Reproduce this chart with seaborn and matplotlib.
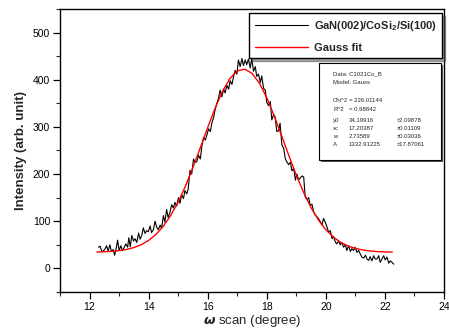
import matplotlib
matplotlib.use("Agg")
import matplotlib.pyplot as plt
from matplotlib.patches import Rectangle
import seaborn as sns

scan_x = [12.30, 12.36, 12.42, 12.48, 12.53, 12.58, 12.63, 12.69, 12.74, 12.80,
          12.85, 12.90, 12.95, 13.00, 13.06, 13.11, 13.17, 13.23, 13.29, 13.33,
          13.38, 13.43, 13.49, 13.54, 13.60, 13.66, 13.71, 13.77, 13.82, 13.88,
          13.93, 13.99, 14.05, 14.10, 14.16, 14.22, 14.27, 14.33, 14.39, 14.44,
          14.50, 14.55, 14.61, 14.66, 14.72, 14.78, 14.84, 14.89, 14.95, 15.01,
          15.06, 15.12, 15.18, 15.23, 15.29, 15.34, 15.40, 15.46, 15.52, 15.57,
          15.63, 15.69, 15.75, 15.80, 15.86, 15.92, 15.97, 16.03, 16.09, 16.14,
          16.20, 16.25, 16.31, 16.37, 16.42, 16.48, 16.54, 16.59, 16.65, 16.71,
          16.76, 16.82, 16.88, 16.93, 16.99, 17.04, 17.10, 17.16, 17.21, 17.27,
          17.32, 17.38, 17.44, 17.49, 17.55, 17.61, 17.66, 17.72, 17.78, 17.83,
          17.89, 17.95, 18.00, 18.06, 18.12, 18.17, 18.23, 18.28, 18.34, 18.40,
          18.45, 18.51, 18.57, 18.63, 18.68, 18.74, 18.80, 18.85, 18.91, 18.97,
          19.02, 19.08, 19.14, 19.19, 19.25, 19.30, 19.36, 19.42, 19.47, 19.53,
          19.59, 19.64, 19.75, 19.87, 19.92, 19.98, 20.04, 20.09, 20.15, 20.21,
          20.26, 20.32, 20.37, 20.43, 20.49, 20.54, 20.60, 20.66, 20.71, 20.77,
          20.83, 20.88, 20.94, 20.99, 21.05, 21.11, 21.17, 21.22, 21.28, 21.34,
          21.39, 21.45, 21.50, 21.56, 21.62, 21.67, 21.73, 21.79, 21.84, 21.90,
          21.96, 22.01, 22.07, 22.13, 22.18, 22.24, 22.30]
scan_y = [45, 47, 35, 38, 42, 48, 37, 50, 36, 40,
          28, 42, 60, 38, 48, 38, 44, 52, 45, 65,
          46, 70, 58, 63, 55, 75, 62, 70, 86, 74,
          80, 78, 90, 76, 82, 100, 88, 82, 92, 85,
          112, 98, 125, 108, 118, 135, 128, 140, 132, 150,
          138, 156, 148, 165, 158, 168, 208, 200, 232, 225,
          226, 240, 232, 258, 278, 272, 282, 296, 290, 308,
          320, 336, 350, 362, 378, 364, 380, 372, 388, 380,
          398, 390, 408, 420, 412, 442, 428, 445, 430, 442,
          432, 444, 425, 446, 418, 428, 407, 412, 394, 408,
          382, 378, 352, 345, 354, 315, 326, 322, 290, 292,
          308, 262, 255, 232, 226, 220, 225, 207, 212, 187,
          200, 188, 192, 196, 194, 152, 146, 150, 134, 136,
          120, 113, 106, 92, 106, 98, 88, 77, 80, 63,
          68, 56, 52, 58, 50, 55, 45, 50, 38, 48,
          36, 42, 38, 45, 34, 38, 30, 24, 22, 28,
          20, 17, 25, 16, 27, 20, 20, 27, 13, 20,
          27, 18, 24, 11, 16, 13, 9]

# Gauss fit curve
fit_x = [12.25, 12.50, 12.75, 13.00, 13.25, 13.50, 13.75, 14.00, 14.25, 14.50,
         14.75, 15.00, 15.25, 15.50, 15.75, 16.00, 16.25, 16.50, 16.75, 17.00,
         17.25, 17.50, 17.75, 18.00, 18.25, 18.50, 18.75, 19.00, 19.25, 19.50,
         19.75, 20.00, 20.25, 20.50, 20.75, 21.00, 21.25, 21.50, 21.75, 22.00,
         22.25]
fit_y = [34.8, 35.3, 36.2, 37.7, 40.2, 44.2, 50.3, 59.4, 72.2, 89.6,
         112.4, 140.9, 174.9, 213.8, 255.8, 298.6, 339.6, 375.2, 402.4, 418.7,
         422.6, 413.7, 392.7, 361.8, 323.7, 281.7, 238.7, 197.7, 160.6, 128.7,
         102.6, 82.0, 66.6, 55.4, 47.6, 42.4, 39.1, 37.0, 35.7, 35.0,
         34.6]

legend_labels = ["GaN(002)/CoSi$_2$/Si(100)", "Gauss fit"]

info_head = ["Data: C1021Co_B", "Model: Gauss"]
stat_names = ["Chi^2", "R^2"]
stat_vals = ["= 226.01144", "= 0.98842"]
par_names = ["y0", "xc", "w", "A"]
par_vals = ["34.19916", "17.20387", "2.73589", "1332.91225"]
par_errs = ["\u00b12.09878", "\u00b10.01109", "\u00b10.03036", "\u00b117.87061"]

sns.set_theme(style="ticks")
plt.rcParams["font.family"] = ["Liberation Sans", "DejaVu Sans"]
plt.rcParams["mathtext.default"] = "regular"

fig = plt.figure(figsize=(4.49, 3.33), dpi=100)
ax = fig.add_axes([60 / 449, 1 - 292 / 333, 384 / 449, 283 / 333])

sns.lineplot(x=scan_x, y=scan_y, ax=ax, color="black", linewidth=0.8,
             estimator=None, sort=False, label=legend_labels[0])
sns.lineplot(x=fit_x, y=fit_y, ax=ax, color="red", linewidth=1.0,
             estimator=None, sort=False, label=legend_labels[1])

ax.set_xlim(11, 24)
ax.set_ylim(-50, 550)
ax.set_xticks(range(12, 25, 2))
ax.set_xticks(range(11, 25), minor=True)
ax.set_yticks(range(0, 501, 100))
ax.set_yticks(range(-50, 551, 50), minor=True)
ax.tick_params(which="major", direction="out", length=5, width=0.9,
               labelsize=7.5, colors="black", pad=2)
ax.tick_params(which="minor", direction="out", length=3, width=0.8)
for sp in ax.spines.values():
    sp.set_visible(True)
    sp.set_color("black")
    sp.set_linewidth(1.0)

ax.set_xlabel(r"$\boldsymbol{\omega}$ scan (degree)", fontsize=9.5, labelpad=1)
ax.set_ylabel("Intensity (arb. unit)", fontsize=9.5, fontweight="bold", labelpad=4)

leg = ax.legend(loc="upper right", bbox_to_anchor=(0.995, 0.986),
                frameon=True, fancybox=False, shadow=True, fontsize=8,
                handlelength=4.8, handletextpad=0.5, labelspacing=0.9,
                borderpad=0.5, borderaxespad=0)
leg.get_frame().set_edgecolor("black")
leg.get_frame().set_linewidth(1.0)
for t in leg.get_texts():
    t.set_fontweight("bold")

# fit report box with a drop shadow
x0, x1 = 0.674, 0.992
y0, y1 = 0.466, 0.809
ax.add_patch(Rectangle((x0 + 0.006, y0 - 0.008), x1 - x0, y1 - y0,
                       transform=ax.transAxes, facecolor="#555555",
                       edgecolor="none", zorder=5))
ax.add_patch(Rectangle((x0, y0), x1 - x0, y1 - y0, transform=ax.transAxes,
                       facecolor="white", edgecolor="black", linewidth=0.8,
                       zorder=6))

col1 = (333 - 60) / 384
col2 = (349 - 60) / 384
col3 = (397 - 60) / 384
row = lambda py: 1 - (py - 9) / 283
fs = 4.3
for i, s in enumerate(info_head):
    ax.text(col1, row(74 + 8 * i), s, transform=ax.transAxes, fontsize=fs,
            va="center", zorder=7)
for i, (n, v) in enumerate(zip(stat_names, stat_vals)):
    ax.text(col1, row(101 + 8 * i), n, transform=ax.transAxes, fontsize=fs,
            va="center", zorder=7)
    ax.text(col2, row(101 + 8 * i), v, transform=ax.transAxes, fontsize=fs,
            va="center", zorder=7)
for i, (n, v, e) in enumerate(zip(par_names, par_vals, par_errs)):
    ax.text(col1, row(121 + 8 * i), n, transform=ax.transAxes, fontsize=fs,
            va="center", zorder=7)
    ax.text(col2, row(121 + 8 * i), v, transform=ax.transAxes, fontsize=fs,
            va="center", zorder=7)
    ax.text(col3, row(121 + 8 * i), e, transform=ax.transAxes, fontsize=fs,
            va="center", zorder=7)

fig.savefig("out.png", dpi=100)
